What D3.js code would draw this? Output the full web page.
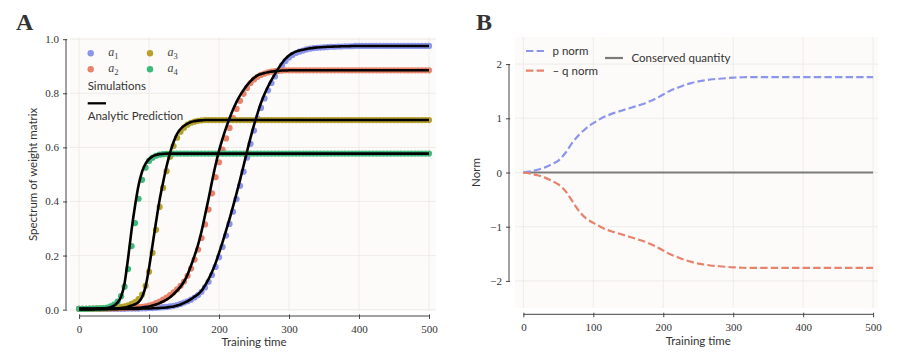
<!DOCTYPE html>
<html>
<head>
<meta charset="utf-8">
<script src="https://cdnjs.cloudflare.com/ajax/libs/d3/7.8.5/d3.min.js"></script>
<style>
body { margin: 0; background: #fff; }
svg { display: block; }
.tick text { font-family: "Liberation Serif", serif; font-size: 11px; fill: #333; }
.lab { font-family: Lato, sans-serif; fill: #333; }
</style>
</head>
<body>
<div id="chart"></div>
<script>
// ---- panel A data: simulation (dots) and analytic prediction (lines), sampled every 5 steps
const timesA = d3.range(0, 501, 5);

const simA1 = [
  0.003,0.003,0.003,0.003,0.003,0.003,0.003,0.003,0.003,0.003,
  0.003,0.003,0.003,0.003,0.004,0.004,0.004,0.004,0.005,0.005,
  0.006,0.006,0.007,0.008,0.009,0.010,0.012,0.014,0.017,0.021,
  0.026,0.031,0.037,0.045,0.054,0.066,0.082,0.103,0.128,0.158,
  0.194,0.232,0.274,0.317,0.362,0.409,0.458,0.510,0.562,0.613,
  0.662,0.706,0.746,0.781,0.811,0.838,0.862,0.884,0.903,0.919,
  0.932,0.942,0.949,0.954,0.958,0.962,0.965,0.967,0.968,0.969,
  0.970,0.971,0.972,0.972,0.973,0.973,0.974,0.974,0.974,0.975,
  0.975,0.975,0.975,0.975,0.975,0.975,0.975,0.975,0.975,0.975,
  0.975,0.975,0.975,0.975,0.975,0.975,0.975,0.975,0.975,0.975,
  0.975];
const fitA1 = [
  0.002,0.002,0.002,0.002,0.002,0.002,0.002,0.002,0.002,0.002,
  0.002,0.002,0.003,0.003,0.003,0.003,0.003,0.003,0.004,0.004,
  0.004,0.005,0.005,0.006,0.007,0.008,0.010,0.012,0.015,0.019,
  0.025,0.031,0.039,0.048,0.057,0.070,0.090,0.113,0.140,0.172,
  0.210,0.250,0.292,0.336,0.382,0.430,0.480,0.532,0.585,0.636,
  0.683,0.726,0.765,0.797,0.825,0.850,0.872,0.893,0.912,0.928,
  0.940,0.948,0.954,0.958,0.961,0.964,0.966,0.968,0.969,0.970,
  0.971,0.972,0.972,0.973,0.973,0.974,0.974,0.974,0.975,0.975,
  0.975,0.975,0.975,0.975,0.975,0.975,0.975,0.975,0.975,0.975,
  0.975,0.975,0.975,0.975,0.975,0.975,0.975,0.975,0.975,0.975,
  0.975];

const simA2 = [
  0.003,0.003,0.003,0.003,0.003,0.004,0.004,0.004,0.004,0.005,
  0.005,0.005,0.006,0.006,0.007,0.007,0.008,0.009,0.010,0.012,
  0.015,0.019,0.024,0.030,0.037,0.045,0.054,0.064,0.075,0.088,
  0.104,0.125,0.152,0.185,0.222,0.265,0.315,0.370,0.430,0.490,
  0.545,0.592,0.633,0.672,0.708,0.742,0.772,0.798,0.820,0.838,
  0.851,0.861,0.868,0.873,0.877,0.880,0.882,0.883,0.884,0.885,
  0.885,0.885,0.885,0.885,0.885,0.885,0.885,0.885,0.885,0.885,
  0.885,0.885,0.885,0.885,0.885,0.885,0.885,0.885,0.885,0.885,
  0.885,0.885,0.885,0.885,0.885,0.885,0.885,0.885,0.885,0.885,
  0.885,0.885,0.885,0.885,0.885,0.885,0.885,0.885,0.885,0.885,
  0.885];
const fitA2 = [
  0.002,0.002,0.002,0.002,0.002,0.003,0.003,0.003,0.003,0.004,
  0.004,0.004,0.005,0.005,0.005,0.006,0.006,0.007,0.008,0.010,
  0.012,0.015,0.019,0.024,0.030,0.037,0.046,0.057,0.070,0.085,
  0.104,0.130,0.163,0.200,0.240,0.290,0.350,0.410,0.475,0.535,
  0.588,0.632,0.672,0.708,0.740,0.768,0.792,0.812,0.830,0.845,
  0.857,0.866,0.871,0.875,0.878,0.880,0.882,0.883,0.884,0.884,
  0.885,0.885,0.885,0.885,0.885,0.885,0.885,0.885,0.885,0.885,
  0.885,0.885,0.885,0.885,0.885,0.885,0.885,0.885,0.885,0.885,
  0.885,0.885,0.885,0.885,0.885,0.885,0.885,0.885,0.885,0.885,
  0.885,0.885,0.885,0.885,0.885,0.885,0.885,0.885,0.885,0.885,
  0.885];

const simA3 = [
  0.003,0.003,0.003,0.003,0.004,0.004,0.004,0.005,0.005,0.006,
  0.007,0.008,0.010,0.012,0.016,0.021,0.028,0.039,0.056,0.088,
  0.140,0.210,0.295,0.380,0.450,0.512,0.565,0.605,0.636,0.658,
  0.673,0.684,0.691,0.695,0.698,0.700,0.701,0.701,0.701,0.701,
  0.701,0.701,0.701,0.701,0.701,0.701,0.701,0.701,0.701,0.701,
  0.701,0.701,0.701,0.701,0.701,0.701,0.701,0.701,0.701,0.701,
  0.701,0.701,0.701,0.701,0.701,0.701,0.701,0.701,0.701,0.701,
  0.701,0.701,0.701,0.701,0.701,0.701,0.701,0.701,0.701,0.701,
  0.701,0.701,0.701,0.701,0.701,0.701,0.701,0.701,0.701,0.701,
  0.701,0.701,0.701,0.701,0.701,0.701,0.701,0.701,0.701,0.701,
  0.701];
const fitA3 = [
  0.003,0.003,0.003,0.003,0.003,0.003,0.003,0.004,0.004,0.004,
  0.005,0.005,0.006,0.008,0.011,0.015,0.020,0.028,0.047,0.085,
  0.155,0.240,0.325,0.405,0.470,0.530,0.580,0.620,0.650,0.668,
  0.680,0.688,0.694,0.697,0.699,0.700,0.701,0.701,0.701,0.701,
  0.701,0.701,0.701,0.701,0.701,0.701,0.701,0.701,0.701,0.701,
  0.701,0.701,0.701,0.701,0.701,0.701,0.701,0.701,0.701,0.701,
  0.701,0.701,0.701,0.701,0.701,0.701,0.701,0.701,0.701,0.701,
  0.701,0.701,0.701,0.701,0.701,0.701,0.701,0.701,0.701,0.701,
  0.701,0.701,0.701,0.701,0.701,0.701,0.701,0.701,0.701,0.701,
  0.701,0.701,0.701,0.701,0.701,0.701,0.701,0.701,0.701,0.701,
  0.701];

const simA4 = [
  0.003,0.003,0.003,0.004,0.004,0.005,0.005,0.006,0.008,0.012,
  0.019,0.030,0.050,0.085,0.150,0.235,0.320,0.410,0.480,0.525,
  0.550,0.562,0.569,0.573,0.575,0.576,0.577,0.577,0.577,0.577,
  0.577,0.577,0.577,0.577,0.577,0.577,0.577,0.577,0.577,0.577,
  0.577,0.577,0.577,0.577,0.577,0.577,0.577,0.577,0.577,0.577,
  0.577,0.577,0.577,0.577,0.577,0.577,0.577,0.577,0.577,0.577,
  0.577,0.577,0.577,0.577,0.577,0.577,0.577,0.577,0.577,0.577,
  0.577,0.577,0.577,0.577,0.577,0.577,0.577,0.577,0.577,0.577,
  0.577,0.577,0.577,0.577,0.577,0.577,0.577,0.577,0.577,0.577,
  0.577,0.577,0.577,0.577,0.577,0.577,0.577,0.577,0.577,0.577,
  0.577];
const fitA4 = [
  0.003,0.003,0.003,0.003,0.003,0.004,0.004,0.005,0.006,0.009,
  0.015,0.026,0.048,0.098,0.190,0.295,0.385,0.460,0.510,0.540,
  0.557,0.567,0.572,0.575,0.576,0.577,0.577,0.577,0.577,0.577,
  0.577,0.577,0.577,0.577,0.577,0.577,0.577,0.577,0.577,0.577,
  0.577,0.577,0.577,0.577,0.577,0.577,0.577,0.577,0.577,0.577,
  0.577,0.577,0.577,0.577,0.577,0.577,0.577,0.577,0.577,0.577,
  0.577,0.577,0.577,0.577,0.577,0.577,0.577,0.577,0.577,0.577,
  0.577,0.577,0.577,0.577,0.577,0.577,0.577,0.577,0.577,0.577,
  0.577,0.577,0.577,0.577,0.577,0.577,0.577,0.577,0.577,0.577,
  0.577,0.577,0.577,0.577,0.577,0.577,0.577,0.577,0.577,0.577,
  0.577];

// ---- panel B data, sampled every 10 steps
const timesB = d3.range(0, 501, 10);
const pNorm = [
  0.00,0.02,0.05,0.09,0.15,0.22,0.36,0.55,0.70,0.82,
  0.91,0.99,1.05,1.10,1.14,1.18,1.22,1.26,1.31,1.37,
  1.44,1.51,1.56,1.61,1.65,1.68,1.70,1.72,1.73,1.74,
  1.75,1.755,1.76,1.76,1.76,1.76,1.76,1.76,1.76,1.76,
  1.76,1.76,1.76,1.76,1.76,1.76,1.76,1.76,1.76,1.76,
  1.76];
const qNorm = [
  0.00,-0.02,-0.05,-0.09,-0.15,-0.22,-0.34,-0.53,-0.72,-0.85,
  -0.93,-1.00,-1.06,-1.10,-1.14,-1.18,-1.22,-1.26,-1.31,-1.37,
  -1.44,-1.51,-1.56,-1.61,-1.65,-1.68,-1.70,-1.72,-1.73,-1.74,
  -1.75,-1.755,-1.76,-1.76,-1.76,-1.76,-1.76,-1.76,-1.76,-1.76,
  -1.76,-1.76,-1.76,-1.76,-1.76,-1.76,-1.76,-1.76,-1.76,-1.76,
  -1.76];
const conservedTimes = [0, 100, 200, 300, 400, 500];
const conserved = [0, 0, 0, 0, 0, 0];

// ---- ticks and labels
const xTicks = [0, 100, 200, 300, 400, 500];
const xMinor = d3.range(0, 501, 20);
const yTicksA = [0, 0.2, 0.4, 0.6, 0.8, 1.0];
const yMinorA = d3.range(0, 1.001, 0.05);
const yTicksB = [-2, -1, 0, 1, 2];
const yMinorB = d3.range(-2, 2.001, 0.2);
const seriesNames = ["1", "2", "3", "4"];
const colors = ["#8c95ec", "#e8826b", "#b6a12d", "#3db97c"];

const svg = d3.select("#chart").append("svg")
  .attr("width", 897)
  .attr("height", 358);

//scales (domains are the visible limits, ranges the plot boxes)
const xA = d3.scaleLinear().domain([-13, 510]).range([70, 436]);
const yA = d3.scaleLinear().domain([-0.005, 1.007]).range([311, 37.3]);
const xB = d3.scaleLinear().domain([-12, 507]).range([515, 878]);
const yB = d3.scaleLinear().domain([-2.5, 2.5]).range([308, 37]);

function panelFrame(x, y, xt, yt, yMinor, yFmt, spineX, spineY) {
  const g = svg.append("g");
  const [x0, x1] = x.range(), [y0, y1] = y.range();
  g.append("rect")
    .attr("x", x0).attr("y", y1)
    .attr("width", x1 - x0).attr("height", y0 - y1)
    .attr("fill", "#fcfbf9");
  g.selectAll(".gx").data(xt).join("line")
    .attr("x1", d => x(d)).attr("x2", d => x(d))
    .attr("y1", y1).attr("y2", y0)
    .attr("stroke", "#ece8e4").attr("stroke-width", 0.8);
  g.selectAll(".gy").data(yt).join("line")
    .attr("x1", x0).attr("x2", x1)
    .attr("y1", d => y(d)).attr("y2", d => y(d))
    .attr("stroke", "#ece8e4").attr("stroke-width", 0.8);

  //x axis (offset below the box)
  const ax = svg.append("g").attr("transform", `translate(0,${spineY})`);
  ax.call(d3.axisBottom(x).tickValues(xMinor).tickSize(1.6).tickFormat(""));
  ax.call(d3.axisBottom(x).tickValues(xt).tickSize(3).tickPadding(6).tickFormat(d3.format("d")));
  ax.selectAll(".domain").remove();
  ax.selectAll(".tick line").attr("y1", -1.6).attr("stroke", "#444");
  ax.append("line")
    .attr("x1", x(xt[0])).attr("x2", x(xt[xt.length - 1]))
    .attr("stroke", "#444");

  //y axis
  const ay = svg.append("g").attr("transform", `translate(${spineX},0)`);
  ay.call(d3.axisLeft(y).tickValues(yMinor).tickSize(1.6).tickFormat(""));
  ay.call(d3.axisLeft(y).tickValues(yt).tickSize(3).tickPadding(4).tickFormat(yFmt));
  ay.selectAll(".domain").remove();
  ay.selectAll(".tick line").attr("x1", 1.2).attr("stroke", "#444");
  ay.append("line")
    .attr("y1", y(yt[0])).attr("y2", y(yt[yt.length - 1]))
    .attr("stroke", "#444");
  svg.selectAll(".tick text").attr("fill", "#333");
}

// ---------------- Panel A
panelFrame(xA, yA, xTicks, yTicksA, yMinorA, d3.format(".1f"), 66, 316);

const simSeries = [simA1, simA2, simA3, simA4];
const fitSeries = [fitA1, fitA2, fitA3, fitA4];

simSeries.forEach((vals, i) => {
  svg.append("g").selectAll("circle")
    .data(vals)
    .join("circle")
    .attr("cx", (d, j) => xA(timesA[j]))
    .attr("cy", d => yA(d))
    .attr("r", 3.1)
    .attr("fill", colors[i]);
});

const lineA = d3.line()
  .x((d, j) => xA(timesA[j]))
  .y(d => yA(d))
  .curve(d3.curveMonotoneX);

fitSeries.forEach(vals => {
  svg.append("path")
    .datum(vals)
    .attr("d", lineA)
    .attr("fill", "none")
    .attr("stroke", "#000")
    .attr("stroke-width", 2.6);
});

//legend A
const legA = svg.append("g");
const legPos = [[90.7, 53.3], [90.7, 69.3], [150, 53.3], [150, 69.3]];
seriesNames.forEach((n, i) => {
  legA.append("circle")
    .attr("cx", legPos[i][0]).attr("cy", legPos[i][1])
    .attr("r", 3.2).attr("fill", colors[i]);
  const t = legA.append("text")
    .attr("x", legPos[i][0] + 17.5).attr("y", legPos[i][1] + 3)
    .attr("font-family", "Liberation Serif, serif")
    .attr("font-size", 12).attr("fill", "#444");
  t.append("tspan").attr("font-style", "italic").text("a");
  t.append("tspan").attr("font-size", 8.5).attr("dy", 2.5).text(n);
});
legA.append("text").attr("class", "lab")
  .attr("x", 87.7).attr("y", 90).attr("font-size", 11.5)
  .text("Simulations");
legA.append("line")
  .attr("x1", 87.7).attr("x2", 106).attr("y1", 103.3).attr("y2", 103.3)
  .attr("stroke", "#000").attr("stroke-width", 2.3);
legA.append("text").attr("class", "lab")
  .attr("x", 87.7).attr("y", 120).attr("font-size", 11.5)
  .text("Analytic Prediction");

svg.append("text").attr("class", "lab")
  .attr("x", xA(250)).attr("y", 346).attr("font-size", 11.5)
  .attr("text-anchor", "middle").text("Training time");
svg.append("text").attr("class", "lab")
  .attr("transform", `translate(36.5,${yA(0.5)}) rotate(-90)`)
  .attr("font-size", 11.5).attr("text-anchor", "middle")
  .text("Spectrum of weight matrix");
svg.append("text")
  .attr("x", 16).attr("y", 30)
  .attr("font-family", "Liberation Serif, serif").attr("font-weight", "bold")
  .attr("font-size", 24).attr("fill", "#333").text("A");

// ---------------- Panel B
panelFrame(xB, yB, xTicks, yTicksB, yMinorB, d => d3.format("d")(d).replace("-", "\u2212"), 509, 314.3);

const lineB = d3.line()
  .x((d, j) => xB(timesB[j]))
  .y(d => yB(d))
  .curve(d3.curveMonotoneX);

svg.append("path")
  .datum(conserved)
  .attr("d", d3.line().x((d, j) => xB(conservedTimes[j])).y(d => yB(d)))
  .attr("fill", "none").attr("stroke", "#7b7b7b").attr("stroke-width", 2);
svg.append("path")
  .datum(pNorm)
  .attr("d", lineB)
  .attr("fill", "none").attr("stroke", colors[0])
  .attr("stroke-width", 2.2).attr("stroke-dasharray", "7.4,3.2");
svg.append("path")
  .datum(qNorm)
  .attr("d", lineB)
  .attr("fill", "none").attr("stroke", colors[1])
  .attr("stroke-width", 2.2).attr("stroke-dasharray", "7.4,3.2");

//legend B
const legB = svg.append("g");
const legBItems = [
  { label: "p norm", color: colors[0], dash: "7.4,3.2", x: 526, y: 51 },
  { label: "\u2013 q norm", color: colors[1], dash: "7.4,3.2", x: 526, y: 70.7 },
  { label: "Conserved quantity", color: "#7b7b7b", dash: null, x: 605, y: 58 }
];
legBItems.forEach(it => {
  legB.append("line")
    .attr("x1", it.x).attr("x2", it.x + 18).attr("y1", it.y).attr("y2", it.y)
    .attr("stroke", it.color).attr("stroke-width", 2.2)
    .attr("stroke-dasharray", it.dash);
  legB.append("text").attr("class", "lab")
    .attr("x", it.x + 26.5).attr("y", it.y + 3.8).attr("font-size", 11.5)
    .text(it.label);
});

svg.append("text").attr("class", "lab")
  .attr("x", xB(250)).attr("y", 345).attr("font-size", 11.5)
  .attr("text-anchor", "middle").text("Training time");
svg.append("text").attr("class", "lab")
  .attr("transform", `translate(480,${yB(0)}) rotate(-90)`)
  .attr("font-size", 11.5).attr("text-anchor", "middle")
  .text("Norm");
svg.append("text")
  .attr("x", 476).attr("y", 30)
  .attr("font-family", "Liberation Serif, serif").attr("font-weight", "bold")
  .attr("font-size", 24).attr("fill", "#333").text("B");
</script>
</body>
</html>
